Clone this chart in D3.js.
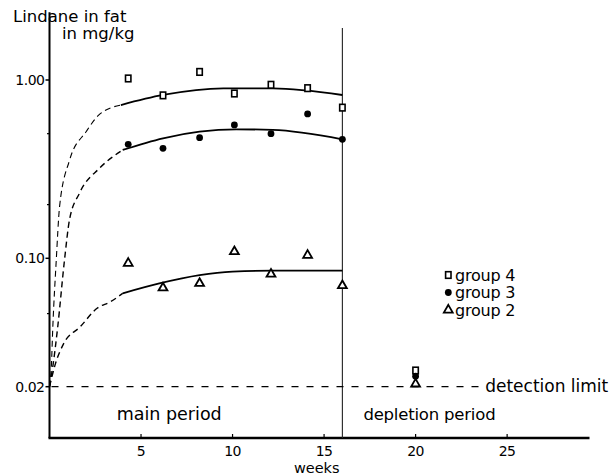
<!DOCTYPE html>
<html><head><meta charset="utf-8">
<script src="https://cdn.jsdelivr.net/npm/d3@7/dist/d3.min.js"></script>
<style>
html,body{margin:0;padding:0;background:#fff;}
svg{display:block;}
text{font-family:"DejaVu Sans",sans-serif;fill:#000;}
</style></head>
<body>
<svg id="chart" width="615" height="475"></svg>
<script>
// ---------- data ----------
const groups = ["group 4", "group 3", "group 2"];
const weeks = [4.3, 6.2, 8.2, 10.1, 12.1, 14.1, 16.0, 20.0];
const group4 = [1.02, 0.82, 1.11, 0.84, 0.94, 0.90, 0.70, 0.0245];
const group3 = [0.436, 0.414, 0.475, 0.56, 0.50, 0.645, 0.465, 0.0228];
const group2 = [0.094, 0.069, 0.073, 0.109, 0.082, 0.104, 0.071, 0.0207];

// fitted curves (week, value): dashed rise part and solid part
const curve4Dashed = [[0,0.02],[0.1,0.0257],[0.18,0.042],[0.37,0.098],[0.55,0.195],[1.1,0.356],[2.0,0.513],[2.7,0.637],[3.9,0.724]];
const curve4Solid  = [[3.9,0.724],[6.2,0.824],[9.5,0.898],[12.2,0.898],[16,0.824]];
const curve3Dashed = [[0,0.02],[0.18,0.0257],[0.45,0.0424],[0.82,0.098],[1.09,0.164],[1.64,0.232],[2.73,0.32],[4.0,0.405]];
const curve3Solid  = [[4.0,0.405],[6.2,0.471],[8.2,0.513],[10.2,0.529],[12.2,0.525],[16,0.465]];
const curve2Dashed = [[0,0.02],[0.33,0.0268],[0.78,0.0344],[1.69,0.0425],[2.6,0.0535],[3.33,0.058],[4.0,0.0645]];
const curve2Solid  = [[4.0,0.0645],[6.0,0.073],[8.2,0.081],[10.0,0.0846],[12.2,0.0856],[16,0.0856]];

const xTicks = [5, 10, 15, 20, 25];
const yTicks = [1.00, 0.10, 0.02];
const yTickLabels = ["1.00", "0.10", "0.02"];
const yMinorTicks = [0.5, 0.2, 0.05];
const detectionLimit = 0.02;
const periodSplit = 16;
const xMax = 29.5;
const yTop = 2.4;

// ---------- scales ----------
const svg = d3.select("#chart");
const x = d3.scaleLinear().domain([0, xMax]).range([49.5, 589.5]);
const y = d3.scaleLog().domain([0.02, 0.1, 1]).range([386.7, 258.3, 80]);
const yAxisBottom = 438;

// ---------- axes ----------
svg.append("line").attr("x1", x(0)).attr("x2", x(0))
  .attr("y1", y(yTop)).attr("y2", yAxisBottom)
  .attr("stroke", "#000").attr("stroke-width", 2);
svg.append("line").attr("x1", x(0) - 1).attr("x2", x(xMax))
  .attr("y1", yAxisBottom).attr("y2", yAxisBottom)
  .attr("stroke", "#000").attr("stroke-width", 2.6);

yTicks.forEach((v, i) => {
  svg.append("line").attr("x1", x(0) - 4).attr("x2", x(0))
    .attr("y1", y(v)).attr("y2", y(v)).attr("stroke", "#000").attr("stroke-width", 1.5);
  svg.append("text").attr("x", x(0) - 5).attr("y", y(v) + 5)
    .attr("text-anchor", "end").attr("font-size", 14).attr("letter-spacing", -0.5)
    .text(yTickLabels[i]);
});
yMinorTicks.forEach(v => {
  svg.append("line").attr("x1", x(0) - 2.5).attr("x2", x(0))
    .attr("y1", y(v)).attr("y2", y(v)).attr("stroke", "#000").attr("stroke-width", 1.2);
});
xTicks.forEach(v => {
  svg.append("line").attr("x1", x(v)).attr("x2", x(v))
    .attr("y1", yAxisBottom - 4).attr("y2", yAxisBottom).attr("stroke", "#000").attr("stroke-width", 1.2);
  svg.append("text").attr("x", x(v)).attr("y", yAxisBottom + 18)
    .attr("text-anchor", "middle").attr("font-size", 14).attr("letter-spacing", -0.5)
    .text(v);
});
svg.append("text").attr("x", x(14.6)).attr("y", 473)
  .attr("text-anchor", "middle").attr("font-size", 14.5).text("weeks");

// y axis title
svg.append("text").attr("x", 13).attr("y", 22).attr("font-size", 16.5).text("Lindane in fat");
svg.append("text").attr("x", 62).attr("y", 39).attr("font-size", 16.5).text("in mg/kg");

// period split vertical line
svg.append("line").attr("x1", x(periodSplit)).attr("x2", x(periodSplit))
  .attr("y1", 28).attr("y2", yAxisBottom)
  .attr("stroke", "#222").attr("stroke-width", 1.1);

// detection limit
svg.append("line").attr("x1", x(0) + 2).attr("x2", x(23.6))
  .attr("y1", y(detectionLimit)).attr("y2", y(detectionLimit))
  .attr("stroke", "#000").attr("stroke-width", 1.3).attr("stroke-dasharray", "7,8");
svg.append("text").attr("x", x(23.8)).attr("y", y(detectionLimit) + 5)
  .attr("font-size", 17).text("detection limit");

// period labels
svg.append("text").attr("x", 116.7).attr("y", 420).attr("font-size", 17.5).text("main period");
svg.append("text").attr("x", x(periodSplit) + 21).attr("y", 420).attr("font-size", 16.5).attr("letter-spacing", -0.2).text("depletion period");

// ---------- curves ----------
const line = d3.line().x(d => x(d[0])).y(d => y(d[1])).curve(d3.curveMonotoneX);
[curve4Dashed, curve3Dashed, curve2Dashed].forEach((c, i) => {
  svg.append("path").attr("d", line(c)).attr("fill", "none")
    .attr("stroke", "#000").attr("stroke-width", i === 0 ? 1.1 : 1.4)
    .attr("stroke-dasharray", "6,4");
});
[curve4Solid, curve3Solid, curve2Solid].forEach(c => {
  svg.append("path").attr("d", line(c)).attr("fill", "none")
    .attr("stroke", "#000").attr("stroke-width", 1.8);
});

// ---------- markers ----------
function square(g, cx, cy) {
  g.append("rect").attr("x", cx - 2.7).attr("y", cy - 3.3).attr("width", 5.4).attr("height", 6.6)
    .attr("fill", "#fff").attr("stroke", "#000").attr("stroke-width", 1.6);
}
function circle(g, cx, cy) {
  g.append("circle").attr("cx", cx).attr("cy", cy).attr("r", 3.4).attr("fill", "#000");
}
const triSym = d3.symbol().type(d3.symbolTriangle).size(34);
function triangle(g, cx, cy) {
  g.append("path").attr("d", triSym()).attr("transform", `translate(${cx},${cy})`)
    .attr("fill", "#fff").attr("stroke", "#000").attr("stroke-width", 1.8);
}
const markers = [square, circle, triangle];
const series = [group4, group3, group2];
const gPts = svg.append("g");
series.forEach((vals, si) => {
  vals.forEach((v, i) => markers[si](gPts, x(weeks[i]), y(v)));
});

// ---------- legend ----------
groups.forEach((name, i) => {
  const ly = 275 + i * 17.5;
  markers[i](svg, 448.3, ly);
  svg.append("text").attr("x", 455).attr("y", ly + 5.5)
    .attr("font-size", 16).attr("letter-spacing", -0.2).text(name);
});
</script>
</body></html>
